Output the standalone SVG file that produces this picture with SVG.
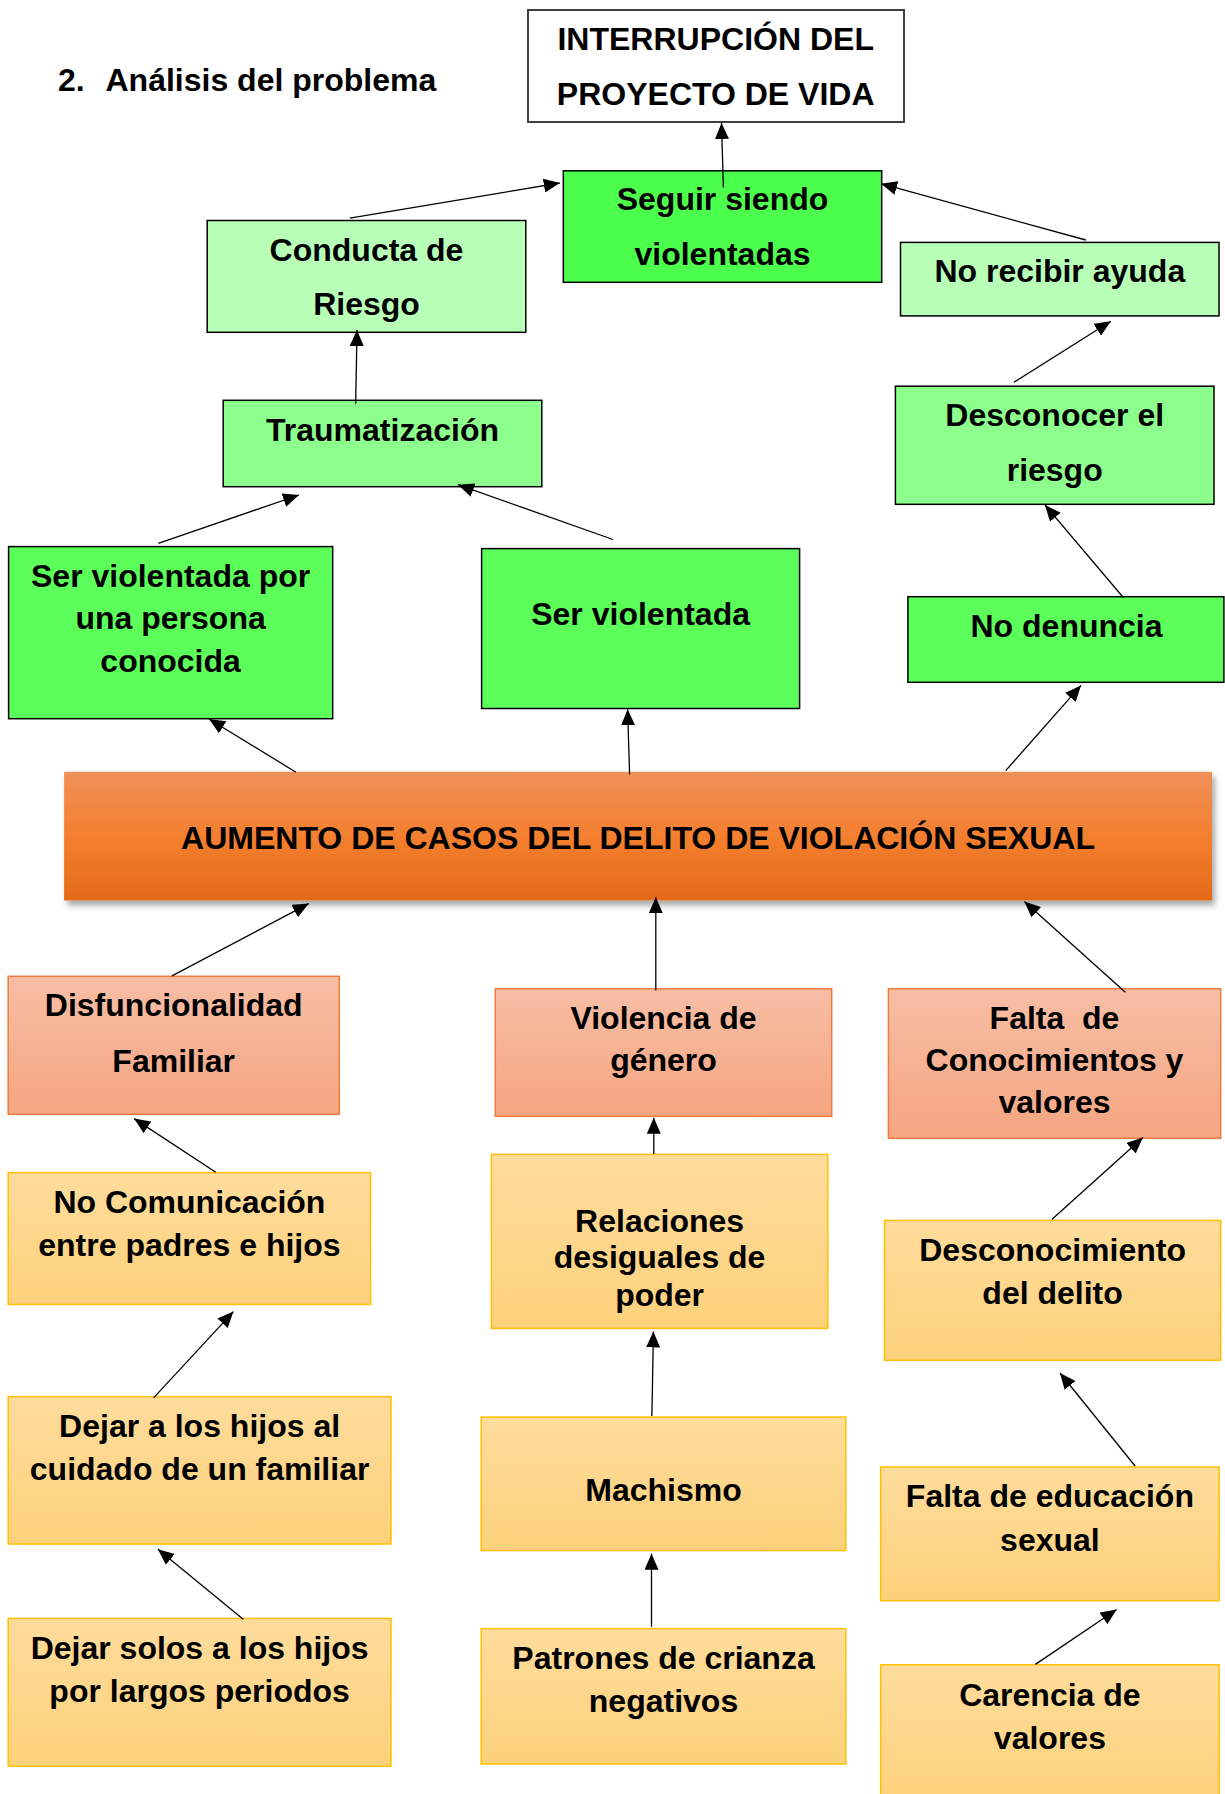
<svg xmlns="http://www.w3.org/2000/svg" width="1225" height="1794" viewBox="0 0 1225 1794">
<style>
  text { font-family: "Liberation Sans", Arial, sans-serif; font-weight: bold; font-size: 32px; fill: #000; text-anchor: middle; }
  .head { text-anchor: start; }
  .pre { white-space: pre; }
  .title rect { fill: #fff; stroke: #404040; stroke-width: 2; }
  .g1 rect { fill: #4dff4d; stroke: #000; stroke-width: 1.5; }
  .g2 rect { fill: #5cff5a; stroke: #000; stroke-width: 1.5; }
  .g3 rect { fill: #b8ffb8; stroke: #000; stroke-width: 1.5; }
  .g4 rect { fill: #8cff8c; stroke: #000; stroke-width: 1.5; }
  .sal rect { fill: url(#salGrad); stroke: #f07c3c; stroke-width: 1.5; }
  .yel rect { fill: url(#yelGrad); stroke: #ffc000; stroke-width: 1.5; }
  #connectors line { stroke: #000; stroke-width: 1.3; fill: none; marker-end: url(#arrow); }
</style>
<defs>
  <marker id="arrow" markerUnits="userSpaceOnUse" markerWidth="18" markerHeight="14" refX="16" refY="7" orient="auto">
    <path d="M0,0 L16,7 L0,14 z" fill="#000"/>
  </marker>
  <linearGradient id="cenGrad" x1="0" y1="0" x2="0" y2="1">
    <stop offset="0" stop-color="#f0915a"/>
    <stop offset="0.5" stop-color="#f47f2f"/>
    <stop offset="1" stop-color="#e46a18"/>
  </linearGradient>
  <linearGradient id="salGrad" x1="0" y1="0" x2="0" y2="1">
    <stop offset="0" stop-color="#f7bea5"/>
    <stop offset="1" stop-color="#f5a581"/>
  </linearGradient>
  <linearGradient id="yelGrad" x1="0" y1="0" x2="0" y2="1">
    <stop offset="0" stop-color="#fedc9c"/>
    <stop offset="1" stop-color="#fdd17b"/>
  </linearGradient>
  <filter id="shadow" x="-5%" y="-10%" width="110%" height="130%">
    <feDropShadow dx="3" dy="5" stdDeviation="3" flood-color="#000" flood-opacity="0.35"/>
  </filter>
</defs>
<rect x="0" y="0" width="1225" height="1794" fill="#fff"/>

<g id="heading">
  <text class="head" x="57.9" y="90.7">2.</text>
  <text class="head" x="105.5" y="90.7">Análisis del problema</text>
</g>

<g id="node-interrupcion" class="title">
  <rect x="528" y="10" width="376" height="112"/>
  <text x="715.7" y="50">INTERRUPCIÓN DEL</text>
  <text x="715.7" y="104.8">PROYECTO DE VIDA</text>
</g>

<g id="node-seguir" class="g1">
  <rect x="563.3" y="170.8" width="318.4" height="111.5"/>
  <text x="722.5" y="210.3">Seguir siendo</text>
  <text x="722.5" y="265">violentadas</text>
</g>

<g id="node-conducta" class="g3">
  <rect x="207.2" y="220.5" width="318.6" height="111.8"/>
  <text x="366.5" y="261">Conducta de</text>
  <text x="366.5" y="315">Riesgo</text>
</g>

<g id="node-norecibir" class="g3">
  <rect x="900.5" y="242.4" width="318.5" height="73.5"/>
  <text x="1059.8" y="282">No recibir ayuda</text>
</g>

<g id="node-traumatizacion" class="g4">
  <rect x="223.2" y="400.3" width="318.6" height="86.4"/>
  <text x="382.5" y="441">Traumatización</text>
</g>

<g id="node-desconocer" class="g4">
  <rect x="895.4" y="386.2" width="318.6" height="118.1"/>
  <text x="1054.7" y="426">Desconocer el</text>
  <text x="1054.7" y="480.8">riesgo</text>
</g>

<g id="node-servioletadapor" class="g2">
  <rect x="8.6" y="546.6" width="324.1" height="172.1"/>
  <text x="170.6" y="586.9">Ser violentada por</text>
  <text x="170.6" y="628.7">una persona</text>
  <text x="170.6" y="671.7">conocida</text>
</g>

<g id="node-serviolentada" class="g2">
  <rect x="481.6" y="548.6" width="318" height="159.9"/>
  <text x="640.6" y="625.2">Ser violentada</text>
</g>

<g id="node-nodenuncia" class="g2">
  <rect x="907.9" y="596.7" width="316" height="85.6"/>
  <text x="1066.5" y="637">No denuncia</text>
</g>

<g id="node-central">
  <rect x="64.1" y="771.8" width="1147.9" height="128.6" fill="url(#cenGrad)" filter="url(#shadow)"/>
  <text x="638" y="848.8">AUMENTO DE CASOS DEL DELITO DE VIOLACIÓN SEXUAL</text>
</g>

<g id="node-disfuncionalidad" class="sal">
  <rect x="8.2" y="976.3" width="331.1" height="138"/>
  <text x="173.7" y="1016.2">Disfuncionalidad</text>
  <text x="173.7" y="1071.7">Familiar</text>
</g>

<g id="node-violencia" class="sal">
  <rect x="495.3" y="988.8" width="336.4" height="127.5"/>
  <text x="663.5" y="1028.7">Violencia de</text>
  <text x="663.5" y="1070.9">género</text>
</g>

<g id="node-faltade" class="sal">
  <rect x="888.4" y="988.8" width="332.3" height="149.5"/>
  <text class="pre" x="1054.5" y="1028.7">Falta  de</text>
  <text x="1054.5" y="1070.9">Conocimientos y</text>
  <text x="1054.5" y="1112.7">valores</text>
</g>

<g id="node-nocomunicacion" class="yel">
  <rect x="8.2" y="1172.6" width="362.4" height="131.9"/>
  <text x="189.4" y="1212.9">No Comunicación</text>
  <text x="189.4" y="1255.8">entre padres e hijos</text>
</g>

<g id="node-relaciones" class="yel">
  <rect x="491.4" y="1154.4" width="336.4" height="174"/>
  <text x="659.6" y="1231.5">Relaciones</text>
  <text x="659.6" y="1268.2">desiguales de</text>
  <text x="659.6" y="1305.8">poder</text>
</g>

<g id="node-desconocimiento" class="yel">
  <rect x="884.5" y="1220.4" width="336.2" height="139.9"/>
  <text x="1052.6" y="1260.7">Desconocimiento</text>
  <text x="1052.6" y="1303.6">del delito</text>
</g>

<g id="node-dejaral" class="yel">
  <rect x="8.2" y="1396.6" width="382.8" height="147.4"/>
  <text x="199.6" y="1437.3">Dejar a los hijos al</text>
  <text x="199.6" y="1479.8">cuidado de un familiar</text>
</g>

<g id="node-machismo" class="yel">
  <rect x="481.2" y="1417" width="364.6" height="133.6"/>
  <text x="663.5" y="1500.6">Machismo</text>
</g>

<g id="node-faltaeducacion" class="yel">
  <rect x="880.6" y="1467" width="338.5" height="133.7"/>
  <text x="1049.9" y="1507.3">Falta de educación</text>
  <text x="1049.9" y="1550.6">sexual</text>
</g>

<g id="node-dejarsolos" class="yel">
  <rect x="8.2" y="1618.4" width="382.8" height="147.8"/>
  <text x="199.6" y="1659.1">Dejar solos a los hijos</text>
  <text x="199.6" y="1702">por largos periodos</text>
</g>

<g id="node-patrones" class="yel">
  <rect x="481.2" y="1628.6" width="364.6" height="135.4"/>
  <text x="663.5" y="1668.8">Patrones de crianza</text>
  <text x="663.5" y="1712.2">negativos</text>
</g>

<g id="node-carencia" class="yel">
  <rect x="880.6" y="1664.8" width="338.5" height="140"/>
  <text x="1049.9" y="1705.6">Carencia de</text>
  <text x="1049.9" y="1748.5">valores</text>
</g>

<g id="connectors">
  <line x1="723.4" y1="187.6" x2="721.5" y2="123"/>
  <line x1="349.9" y1="218.1" x2="559.8" y2="183"/>
  <line x1="1085.8" y1="240" x2="881" y2="183.7"/>
  <line x1="355.7" y1="403.8" x2="357" y2="330"/>
  <line x1="1013.9" y1="382.3" x2="1110.8" y2="321.3"/>
  <line x1="158.3" y1="543.4" x2="299" y2="495"/>
  <line x1="613" y1="539.5" x2="458" y2="484.7"/>
  <line x1="1123.3" y1="597.5" x2="1045" y2="505"/>
  <line x1="296" y1="772.2" x2="209" y2="719"/>
  <line x1="629.6" y1="774.6" x2="627.6" y2="709.3"/>
  <line x1="1005.7" y1="770.6" x2="1081" y2="685.4"/>
  <line x1="172" y1="975.9" x2="308.8" y2="903.6"/>
  <line x1="655.8" y1="990.4" x2="655.8" y2="897.3"/>
  <line x1="1125.3" y1="992.3" x2="1024.4" y2="901.6"/>
  <line x1="215.8" y1="1172.2" x2="134.1" y2="1118.6"/>
  <line x1="653.8" y1="1154" x2="653.8" y2="1117.7"/>
  <line x1="1051.8" y1="1219.5" x2="1142.9" y2="1137.6"/>
  <line x1="153.6" y1="1397.9" x2="233.4" y2="1311.6"/>
  <line x1="651.9" y1="1416" x2="653.4" y2="1331.5"/>
  <line x1="1135.1" y1="1466" x2="1060" y2="1373"/>
  <line x1="243.2" y1="1619.3" x2="157.9" y2="1549.3"/>
  <line x1="651.5" y1="1626.8" x2="651.5" y2="1553.7"/>
  <line x1="1035.4" y1="1664.4" x2="1116.7" y2="1609.5"/>
</g>
</svg>
